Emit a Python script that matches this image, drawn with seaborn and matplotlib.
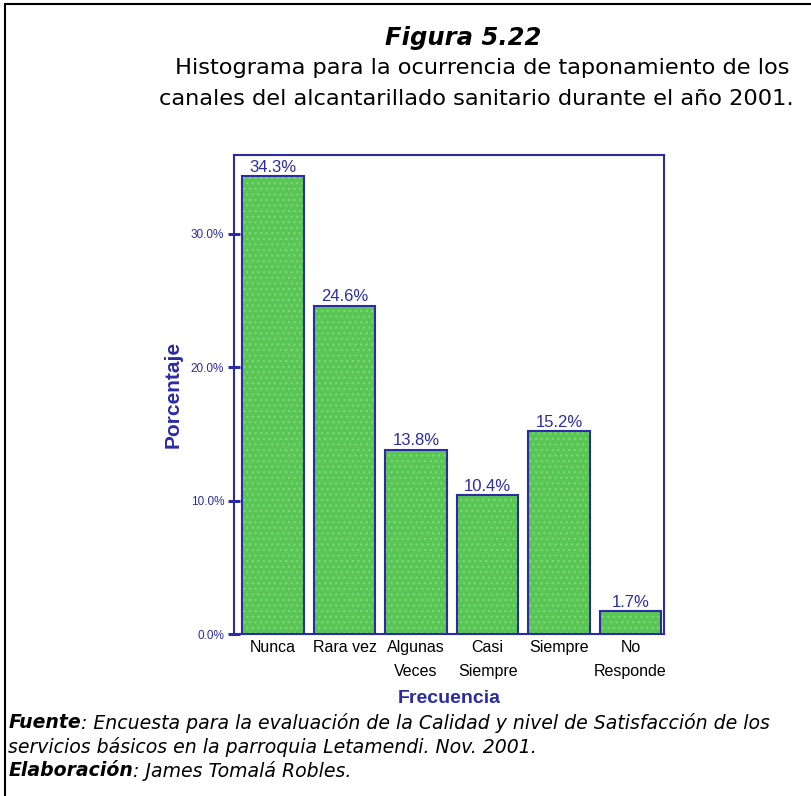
import matplotlib
matplotlib.use("Agg")
import matplotlib.pyplot as plt
import seaborn as sns
import pandas as pd

categories = ["Nunca", "Rara vez", "Algunas\nVeces", "Casi\nSiempre", "Siempre", "No\nResponde"]
percentages = [34.3, 24.6, 13.8, 10.4, 15.2, 1.7]
ytick_values = [0, 10, 20, 30]
ytick_labels = ["0.0%", "10.0%", "20.0%", "30.0%"]

navy = "#2b2ba6"
green = "#58c554"
dots = "#7fd878"

sns.set_theme(style="white")
plt.rcParams["font.family"] = ["DejaVu Sans"]
plt.rcParams["text.color"] = "black"
plt.rcParams["hatch.linewidth"] = 0.9

fig = plt.figure(figsize=(8.12, 7.96), dpi=100)
ax = fig.add_axes([0.288, 0.2035, 0.530, 0.602])

df = pd.DataFrame({"cat": categories, "pct": percentages})
# textured fill
sns.barplot(data=df, x="cat", y="pct", ax=ax, color=green, saturation=1,
            width=0.86, edgecolor=dots, linewidth=0, hatch="...")
# outlines
sns.barplot(data=df, x="cat", y="pct", ax=ax, fill=False, saturation=1,
            width=0.86, edgecolor=navy, linewidth=1.5, color=navy)

ax.set_xlim(-0.55, 5.47)
ax.set_ylim(0, 35.9)

n = len(categories)
for p, v in zip(ax.patches[:n], percentages):
    ax.text(p.get_x() + p.get_width() / 2, v + 0.12, f"{v:.1f}%",
            ha="center", va="bottom", color=navy, fontsize=12,
            family="Liberation Sans")

ax.set_yticks(ytick_values)
ax.set_yticklabels(ytick_labels, color=navy, fontsize=8.5, family="Liberation Sans")
ax.set_xticks(range(n))
ax.set_xticklabels(categories, color="black", fontsize=11.5, family="Liberation Sans",
                   linespacing=1.75, va="top")

ax.tick_params(axis="y", direction="inout", length=8, width=2.2, color=navy, pad=3, left=True)
ax.tick_params(axis="x", direction="in", length=8, width=2.2, color=navy, pad=4, bottom=True)

for s in ax.spines.values():
    s.set_color(navy)
    s.set_linewidth(1.5)
    s.set_visible(True)

ax.set_xlabel("Frecuencia", color=navy, fontsize=14, fontweight="bold",
              family="Liberation Sans", labelpad=8)
ax.set_ylabel("Porcentaje", color=navy, fontsize=15, fontweight="bold",
              family="Liberation Sans", labelpad=6)

# titles
fig.text(0.570, 0.952, "Figura 5.22", ha="center", va="center", fontsize=17.5,
         fontweight="bold", fontstyle="italic", color="black")
fig.text(0.594, 0.914, "Histograma para la ocurrencia de taponamiento de los",
         ha="center", va="center", fontsize=16.2, color="black")
fig.text(0.587, 0.876, "canales del alcantarillado sanitario durante el año 2001.",
         ha="center", va="center", fontsize=16.2, color="black")

# footer
fs = 13.6
def rich(y, parts):
    x = 0.010
    renderer = fig.canvas.get_renderer()
    for txt, bold in parts:
        t = fig.text(x, y, txt, fontsize=fs, fontstyle="italic",
                     fontweight="bold" if bold else "normal", va="center", color="black")
        bb = t.get_window_extent(renderer=renderer)
        x += bb.width / fig.bbox.width

rich(0.092, [("Fuente", True), (": Encuesta para la evaluación de la Calidad y nivel de Satisfacción de los", False)])
rich(0.062, [("servicios básicos en la parroquia Letamendi. Nov. 2001.", False)])
rich(0.032, [("Elaboración", True), (": James Tomalá Robles.", False)])

# frame lines
fig.add_artist(plt.Line2D([0.006, 0.006], [0.0, 0.995], color="black", lw=1.5))
fig.add_artist(plt.Line2D([0.006, 1.0], [0.995, 0.995], color="black", lw=1.5))

fig.savefig("out.png", dpi=100)
